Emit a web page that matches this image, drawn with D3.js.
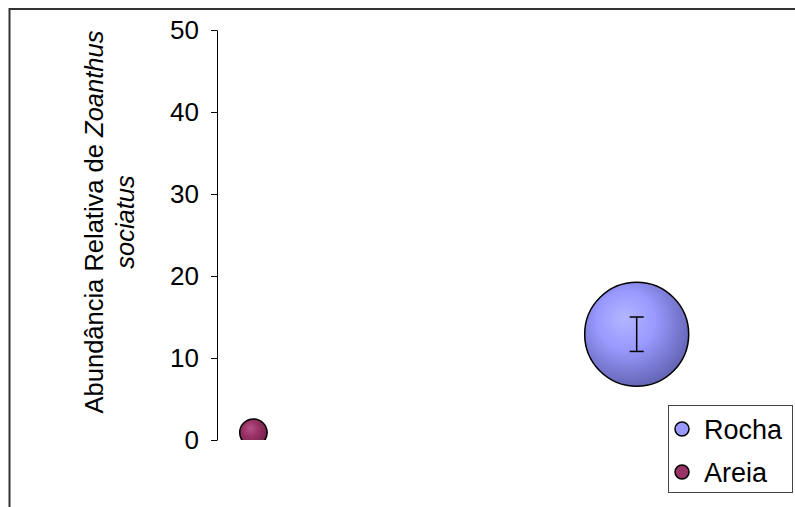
<!DOCTYPE html>
<html>
<head>
<meta charset="utf-8">
<script src="https://cdn.jsdelivr.net/npm/d3@7"></script>
<style>
  html, body { margin: 0; padding: 0; background: #fff; }
  svg { display: block; }
  text { font-family: Arial, "Liberation Sans", sans-serif; fill: #000; }
</style>
</head>
<body>
<svg id="chart" width="795" height="507"></svg>
<script>
// Habitat series (bubble chart: y = relative abundance, bubble size = same value)
const series = ["Rocha", "Areia"];
const xValues = [2, 1];
const yValues = [12.9, 0.9];
const errValues = [2.1, 0];
const fillBase = ["#9999FF", "#993366"];
const fillLight = ["#b3b6ff", "#b5508a"];
const fillDark = ["#6464b4", "#74204c"];
const yTicks = [0, 10, 20, 30, 40, 50];

const svg = d3.select("#chart");
const W = 795, H = 507;
const plot = { left: 217, right: 790, top: 30, bottom: 440 };
const fontSize = 26;

const y = d3.scaleLinear().domain([0, 50]).range([plot.bottom, plot.top]);
const x = d3.scaleLinear().domain([0.905, 2.4]).range([plot.left, plot.right]);
const r = d3.scaleSqrt().domain([0, 12.9]).range([0, 52]);

// outer chart frame (extends past the visible area on the right and bottom)
svg.append("rect")
  .attr("x", 9.5).attr("y", 9)
  .attr("width", W + 20).attr("height", H + 20)
  .attr("fill", "none").attr("stroke", "#333").attr("stroke-width", 2);

const defs = svg.append("defs");
defs.append("clipPath").attr("id", "plotClip")
  .append("rect")
  .attr("x", plot.left).attr("y", plot.top - 60)
  .attr("width", plot.right - plot.left + 10)
  .attr("height", plot.bottom - plot.top + 60);

series.forEach((s, i) => {
  const g = defs.append("radialGradient")
    .attr("id", "grad" + i)
    .attr("cx", "42%").attr("cy", "40%").attr("r", "62%")
    .attr("fx", "38%").attr("fy", "34%");
  g.append("stop").attr("offset", "0%").attr("stop-color", fillLight[i]);
  g.append("stop").attr("offset", "45%").attr("stop-color", fillBase[i]);
  g.append("stop").attr("offset", "100%").attr("stop-color", fillDark[i]);
});

// y axis
const yAxis = d3.axisLeft(y).tickValues(yTicks).tickSize(6).tickSizeOuter(0).tickPadding(12);
const ga = svg.append("g").attr("transform", `translate(${plot.left},0)`).call(yAxis);
ga.select(".domain").attr("stroke", "#000").attr("stroke-width", 1);
ga.selectAll(".tick line").attr("stroke", "#000");
ga.selectAll(".tick text")
  .attr("font-size", fontSize)
  .style("font-family", "Arial, 'Liberation Sans', sans-serif")
  .attr("fill", "#000");

// y axis title (two lines, rotated)
const title = svg.append("text")
  .attr("transform", "translate(103,222) rotate(-90)")
  .attr("text-anchor", "middle")
  .attr("font-size", 25.5);
const t1 = title.append("tspan").attr("x", 0).attr("y", 0);
t1.append("tspan").text("Abundância Relativa de ");
t1.append("tspan").attr("font-style", "italic").text("Zoanthus");
title.append("tspan").attr("x", 0).attr("dy", 31)
  .attr("font-style", "italic").text("sociatus");

// bubbles
const data = series.map((s, i) => ({ s, i, x: xValues[i], y: yValues[i], e: errValues[i] }));
const gp = svg.append("g").attr("clip-path", "url(#plotClip)");
gp.selectAll("circle.bubble")
  .data(data.slice().sort((a, b) => b.y - a.y))
  .join("circle")
  .attr("class", "bubble")
  .attr("cx", d => x(d.x))
  .attr("cy", d => y(d.y))
  .attr("r", d => r(d.y))
  .attr("fill", d => `url(#grad${d.i})`)
  .attr("stroke", "#000")
  .attr("stroke-width", 1.5);

// error bars
const eb = svg.append("g").attr("stroke", "#000").attr("stroke-width", 1.5);
data.filter(d => d.e > 0).forEach(d => {
  const cx = x(d.x);
  eb.append("line").attr("x1", cx).attr("x2", cx).attr("y1", y(d.y - d.e)).attr("y2", y(d.y + d.e));
  [d.y - d.e, d.y + d.e].forEach(v => {
    eb.append("line").attr("x1", cx - 7).attr("x2", cx + 7).attr("y1", y(v)).attr("y2", y(v));
  });
});

// legend
const lg = svg.append("g").attr("transform", "translate(668,405)");
lg.append("rect").attr("x", 0.5).attr("y", 0.5).attr("width", 124).attr("height", 87)
  .attr("fill", "#fff").attr("stroke", "#444").attr("stroke-width", 1);
series.forEach((s, i) => {
  const row = lg.append("g").attr("transform", `translate(0,${24 + i * 43})`);
  row.append("circle").attr("cx", 14).attr("cy", 0).attr("r", 7)
    .attr("fill", fillBase[i]).attr("stroke", "#000").attr("stroke-width", 1.5);
  row.append("text").attr("x", 36).attr("y", 9.5).attr("font-size", 27).text(s);
});
</script>
</body>
</html>
